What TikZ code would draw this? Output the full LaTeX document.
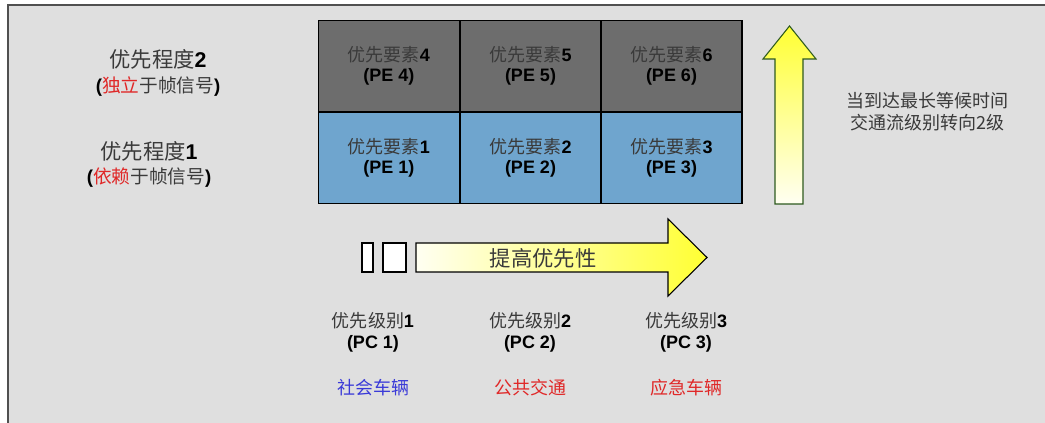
\documentclass[tikz,border=0pt]{standalone}
\usepackage{fontspec}
\setmainfont{Liberation Sans}
\newfontfamily\cjk{Noto Sans CJK SC}
\newcommand\zh[1]{{\cjk #1}}
\newcommand\bn[1]{{\color{black}\bfseries #1}}
\definecolor{bg}{HTML}{DFDFDF}
\definecolor{frame}{HTML}{505050}
\definecolor{txt}{HTML}{3A3A3A}
\definecolor{peGray}{HTML}{6D6D6D}
\definecolor{peBlue}{HTML}{6FA5CE}
\definecolor{arrY}{HTML}{FFFF33}
\definecolor{arrW}{HTML}{FFFFF2}
\definecolor{arrG}{HTML}{2E5A1E}
\definecolor{zhBlue}{HTML}{3A3AD8}
\definecolor{zhRed}{HTML}{E02828}
\tikzset{
  cell/.style={draw=black, line width=1pt, minimum width=105.8pt, minimum height=68.6pt, inner sep=0pt, align=center, text=txt, font=\fontsize{13.5}{15}\selectfont},
  side/.style={align=center, text=txt},
  lvl/.style={align=center, text=txt, font=\fontsize{13.5}{15.8}\selectfont},
  veh/.style={font=\fontsize{13.5}{15}\selectfont\cjk},
  tinybox/.style={draw=black, fill=white, line width=0.8pt},
}
\begin{document}
\begin{tikzpicture}[x=0.75pt, y=-0.75pt]
\useasboundingbox (0,0) rectangle (1045,423);
\fill[white] (0,0) rectangle (1045,423);
\fill[bg] (8,5) rectangle (1045,423);
\draw[frame, line width=1.5pt] (8,423) -- (8,5) -- (1045,5);

% grid of priority elements
\node[cell, fill=peGray] (pe4) at (389,66.3) {\zh{优先要素}\bn{4}\\\bn{(PE 4)}};
\node[cell, fill=peGray] (pe5) at (530.5,66.3) {\zh{优先要素}\bn{5}\\\bn{(PE 5)}};
\node[cell, fill=peGray] (pe6) at (671.5,66.3) {\zh{优先要素}\bn{6}\\\bn{(PE 6)}};
\node[cell, fill=peBlue] (pe1) at (389,157.8) {\zh{优先要素}\bn{1}\\\bn{(PE 1)}};
\node[cell, fill=peBlue] (pe2) at (530.5,157.8) {\zh{优先要素}\bn{2}\\\bn{(PE 2)}};
\node[cell, fill=peBlue] (pe3) at (671.5,157.8) {\zh{优先要素}\bn{3}\\\bn{(PE 3)}};

% left labels
\node[side] (pd2) at (158,73) {{\fontsize{16}{18}\selectfont\zh{优先程度}\bn{2}}\\[4pt]
  {\fontsize{14}{15}\selectfont\bn{(}\zh{\textcolor{zhRed}{独立}于帧信号}\bn{)}}};
\node[side] (pd1) at (149,164.5) {{\fontsize{16}{18}\selectfont\zh{优先程度}\bn{1}}\\[4pt]
  {\fontsize{14}{15}\selectfont\bn{(}\zh{\textcolor{zhRed}{依赖}于帧信号}\bn{)}}};

% horizontal arrow
\draw[tinybox] (362,243) rectangle (373,272);
\draw[tinybox] (383,243) rectangle (406,272);
\draw[black, line width=0.8pt, left color=arrW, right color=arrY]
  (416,243) -- (668,243) -- (668,219) -- (707,257.5) -- (668,296) -- (668,272) -- (416,272) -- cycle;
\node[text=txt, font=\fontsize{16}{18}\selectfont\cjk] (up) at (543,258) {提高优先性};

% vertical arrow
\draw[arrG, line width=0.8pt, top color=arrY, bottom color=arrW]
  (775,204) -- (775,59) -- (763,59) -- (789.5,26) -- (816,59) -- (803,59) -- (803,204) -- cycle;
\node[align=center, text=txt, font=\fontsize{13.5}{16.5}\selectfont\cjk] (note) at (927,112)
  {当到达最长等候时间\\交通流级别转向2级};

% priority classes
\node[lvl] (pc1) at (373,332) {\zh{优先级别}\bn{1}\\\bn{(PC 1)}};
\node[lvl] (pc2) at (530,332) {\zh{优先级别}\bn{2}\\\bn{(PC 2)}};
\node[lvl] (pc3) at (686,332) {\zh{优先级别}\bn{3}\\\bn{(PC 3)}};
\node[veh, text=zhBlue] (v1) at (373,388) {社会车辆};
\node[veh, text=zhRed] (v2) at (530,388) {公共交通};
\node[veh, text=zhRed] (v3) at (686,388) {应急车辆};
\end{tikzpicture}
\end{document}
